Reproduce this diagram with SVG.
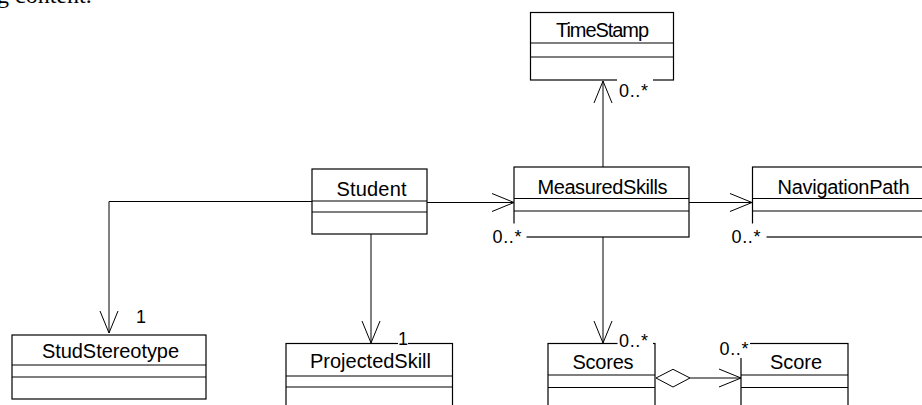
<svg xmlns="http://www.w3.org/2000/svg" width="922" height="405" viewBox="0 0 922 405">
<style>
.box{fill:#fff;stroke:#000;stroke-width:1.2}
.div{stroke:#000;stroke-width:1.2}
.name{font-family:"Liberation Sans",Arial,sans-serif;font-size:20px;fill:#000}
.mult{font-family:"Liberation Sans",Arial,sans-serif;font-size:18px;fill:#000}
.conn{fill:none;stroke:#000;stroke-width:1}
.bg{fill:#fff;stroke:none}
.page{font-family:"Liberation Serif","Times New Roman",serif;font-size:24px;fill:#000}
</style>
<defs>
<marker id="open" viewBox="-23 -10 24 20" refX="0" refY="0" markerWidth="24" markerHeight="20" markerUnits="userSpaceOnUse" orient="auto" overflow="visible">
<path d="M-22,-9 L0,0 L-22,9" fill="none" stroke="#000" stroke-width="1"/>
</marker>
</defs>
<rect width="922" height="405" fill="#fff"/>
<text class="page" x="-3" y="3">g content.</text>

<g id="TimeStamp">
<rect class="box" x="530.5" y="12.5" width="143" height="67.5"/>
<line class="div" x1="530.5" y1="43" x2="673.5" y2="43"/>
<line class="div" x1="530.5" y1="57" x2="673.5" y2="57"/>
<text class="name" x="556" y="37" textLength="93" lengthAdjust="spacing">TimeStamp</text>
</g>
<g id="Student">
<rect class="box" x="312" y="169" width="115" height="65"/>
<line class="div" x1="312" y1="201" x2="427" y2="201"/>
<line class="div" x1="312" y1="212" x2="427" y2="212"/>
<text class="name" x="336.5" y="195.5" textLength="70" lengthAdjust="spacing">Student</text>
</g>
<g id="MeasuredSkills">
<rect class="box" x="514" y="167" width="175" height="70"/>
<line class="div" x1="514" y1="198.5" x2="689" y2="198.5"/>
<line class="div" x1="514" y1="211" x2="689" y2="211"/>
<text class="name" x="537.5" y="193.5" textLength="130" lengthAdjust="spacing">MeasuredSkills</text>
</g>
<g id="NavigationPath">
<rect class="box" x="752.5" y="167" width="180" height="70"/>
<line class="div" x1="752.5" y1="198.5" x2="932" y2="198.5"/>
<line class="div" x1="752.5" y1="211" x2="932" y2="211"/>
<text class="name" x="777.5" y="193.5" textLength="132" lengthAdjust="spacing">NavigationPath</text>
</g>
<g id="StudStereotype">
<rect class="box" x="12" y="335" width="194" height="64"/>
<line class="div" x1="12" y1="365" x2="206" y2="365"/>
<line class="div" x1="12" y1="377" x2="206" y2="377"/>
<text class="name" x="42" y="358" textLength="137" lengthAdjust="spacing">StudStereotype</text>
</g>
<g id="ProjectedSkill">
<rect class="box" x="286" y="343.5" width="166.5" height="80"/>
<line class="div" x1="286" y1="376" x2="452.5" y2="376"/>
<line class="div" x1="286" y1="387" x2="452.5" y2="387"/>
<text class="name" x="310" y="368" textLength="121" lengthAdjust="spacing">ProjectedSkill</text>
</g>
<g id="Scores">
<rect class="box" x="548" y="343.5" width="107" height="80"/>
<line class="div" x1="548" y1="375" x2="655" y2="375"/>
<line class="div" x1="548" y1="387.5" x2="655" y2="387.5"/>
<text class="name" x="572.5" y="369" textLength="61" lengthAdjust="spacing">Scores</text>
</g>
<g id="Score">
<rect class="box" x="741" y="343.5" width="107" height="80"/>
<line class="div" x1="741" y1="375" x2="848" y2="375"/>
<line class="div" x1="741" y1="387.5" x2="848" y2="387.5"/>
<text class="name" x="770" y="369" textLength="52" lengthAdjust="spacing">Score</text>
</g>

<g id="connectors">
<polyline class="conn" points="312,201.5 109,201.5 109,333" marker-end="url(#open)"/>
<line class="conn" x1="371" y1="234" x2="371" y2="343" marker-end="url(#open)"/>
<line class="conn" x1="427" y1="202.5" x2="514" y2="202.5" marker-end="url(#open)"/>
<line class="conn" x1="603" y1="167" x2="603" y2="81" marker-end="url(#open)"/>
<line class="conn" x1="689" y1="202.5" x2="752" y2="202.5" marker-end="url(#open)"/>
<line class="conn" x1="603" y1="237" x2="603" y2="343" marker-end="url(#open)"/>
<polygon points="656,378 673,369.3 690,378 673,387" fill="#fff" stroke="#000" stroke-width="1"/>
<line class="conn" x1="690" y1="378" x2="741" y2="378" marker-end="url(#open)"/>

<rect class="bg" x="617" y="78" width="36" height="22"/>
<text class="mult" x="619" y="97" textLength="29" lengthAdjust="spacing">0..*</text>
<rect class="bg" x="490" y="223.5" width="36.5" height="23"/>
<text class="mult" x="492.5" y="243" textLength="29" lengthAdjust="spacing">0..*</text>
<rect class="bg" x="729" y="223.5" width="37.5" height="23"/>
<text class="mult" x="731.5" y="243" textLength="29" lengthAdjust="spacing">0..*</text>
<rect class="bg" x="617.5" y="330" width="35.5" height="18"/>
<text class="mult" x="619" y="346.5" textLength="29" lengthAdjust="spacing">0..*</text>
<rect class="bg" x="717" y="338" width="33" height="20"/>
<text class="mult" x="719.5" y="355" textLength="29" lengthAdjust="spacing">0..*</text>
<text class="mult" x="136" y="323">1</text>
<rect class="bg" x="398" y="331" width="10" height="14"/>
<text class="mult" x="398" y="345">1</text>
</g>
</svg>
